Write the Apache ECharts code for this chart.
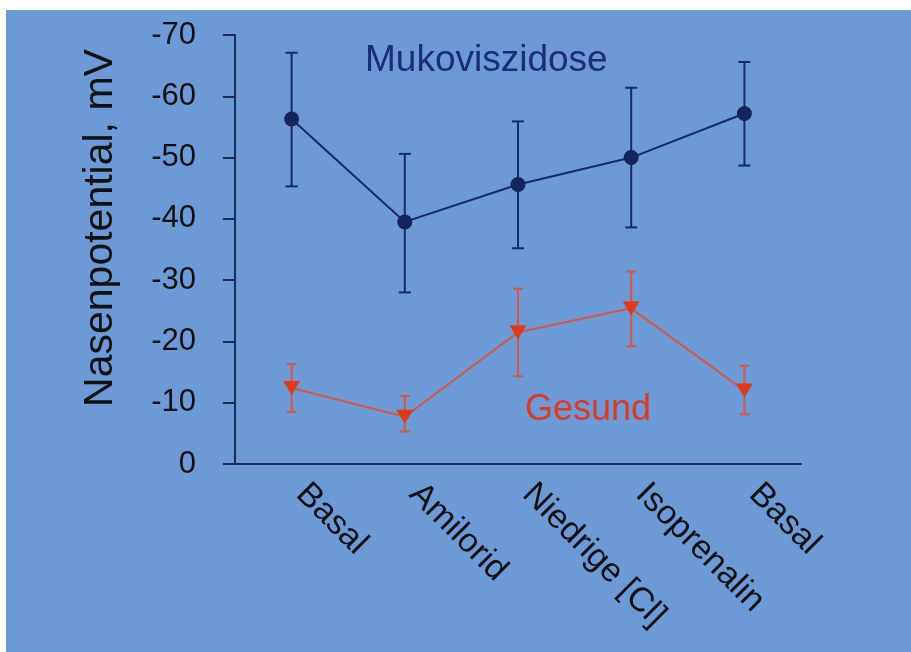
<!DOCTYPE html>
<html>
<head>
<meta charset="utf-8">
<script src="https://cdn.jsdelivr.net/npm/echarts@6/dist/echarts.min.js"></script>
<style>
html,body{margin:0;padding:0;background:#ffffff;}
#chart{width:911px;height:652px;}
</style>
</head>
<body>
<div id="chart"></div>
<script>
// ---- data ----
var categories = ['Basal', 'Amilorid', 'Niedrige [Cl]', 'Isoprenalin', 'Basal'];
var yTicks = [-70, -60, -50, -40, -30, -20, -10, 0];
var mukoMean = [-56.3, -39.5, -45.6, -50.0, -57.2];
var mukoUpper = [-67.1, -50.6, -55.9, -61.4, -65.6];
var mukoLower = [-45.3, -28.0, -35.2, -38.6, -48.7];
var gesundMean = [-12.4, -7.7, -21.5, -25.4, -12.0];
var gesundUpper = [-16.3, -11.1, -28.6, -31.4, -16.0];
var gesundLower = [-8.5, -5.3, -14.3, -19.2, -8.1];
var yTitle = 'Nasenpotential, mV';
var mukoName = 'Mukoviszidose';
var gesundName = 'Gesund';

var FONT = "'Liberation Sans', Arial, sans-serif";
var BG = '#6b9ad7';
var AXIS = '#1f2b55';
var MUKO = '#1a2870';
var MUKO_TEXT = '#1c2b7c';
var RED = '#e03a18';
var RED_LINE = '#d6563f';

function errData(upper, lower) {
  return upper.map(function (u, i) { return [i, u, lower[i]]; });
}
function errRender(color, capHalf) {
  return function (params, api) {
    var x = api.value(0);
    var p1 = api.coord([x, api.value(1)]);
    var p2 = api.coord([x, api.value(2)]);
    var st = { stroke: color, lineWidth: 2 };
    return {
      type: 'group',
      children: [
        { type: 'line', shape: { x1: p1[0], y1: p1[1], x2: p2[0], y2: p2[1] }, style: st },
        { type: 'line', shape: { x1: p1[0] - capHalf, y1: p1[1], x2: p1[0] + capHalf, y2: p1[1] }, style: st },
        { type: 'line', shape: { x1: p2[0] - capHalf, y1: p2[1], x2: p2[0] + capHalf, y2: p2[1] }, style: st }
      ]
    };
  };
}

var chart = echarts.init(document.getElementById('chart'), null, { renderer: 'canvas' });
chart.setOption({
  animation: false,
  backgroundColor: '#ffffff',
  textStyle: { fontFamily: FONT },
  grid: { left: 235, right: 110, top: 35, bottom: 188, containLabel: false },
  graphic: [
    { type: 'rect', z: -10, silent: true, shape: { x: 6, y: 10, width: 905, height: 642 }, style: { fill: BG } },
    { type: 'text', z: 10, x: 101, y: 228, rotation: Math.PI / 2,
      style: { text: yTitle, font: '41px ' + FONT, fill: '#111111', align: 'center', verticalAlign: 'middle' } },
    { type: 'text', z: 10, x: 365, y: 61,
      style: { text: mukoName, font: '37px ' + FONT, fill: MUKO_TEXT, align: 'left', verticalAlign: 'middle' } },
    { type: 'text', z: 10, x: 525, y: 410,
      style: { text: gesundName, font: '36px ' + FONT, fill: '#dc3a22', align: 'left', verticalAlign: 'middle' } }
  ],
  xAxis: {
    type: 'category',
    data: categories,
    boundaryGap: true,
    axisLine: { lineStyle: { color: AXIS, width: 2 } },
    axisTick: { alignWithLabel: true, length: 10, lineStyle: { color: AXIS, width: 2 } },
    axisLabel: { rotate: -45, margin: 15, padding: [0, 0, 0, 14], fontSize: 34, color: '#111111', fontFamily: FONT, interval: 0 },
    splitLine: { show: false }
  },
  yAxis: {
    type: 'value',
    min: yTicks[0],
    max: yTicks[yTicks.length - 1],
    interval: 10,
    inverse: true,
    axisLine: { show: true, lineStyle: { color: AXIS, width: 2 } },
    axisTick: { show: true, length: 12, lineStyle: { color: AXIS, width: 2 } },
    axisLabel: { margin: 39, fontSize: 31, color: '#111111', fontFamily: FONT },
    splitLine: { show: false }
  },
  series: [
    {
      type: 'custom', name: 'mukoErr', data: errData(mukoUpper, mukoLower),
      renderItem: errRender(MUKO, 6), z: 3
    },
    {
      type: 'custom', name: 'gesundErr', data: errData(gesundUpper, gesundLower),
      renderItem: errRender(RED_LINE, 5), z: 3
    },
    {
      type: 'line', name: mukoName, data: mukoMean,
      symbol: 'circle', symbolSize: 15,
      lineStyle: { color: MUKO, width: 2 },
      itemStyle: { color: '#15245c' }, z: 4
    },
    {
      type: 'line', name: gesundName, data: gesundMean,
      symbol: 'triangle', symbolRotate: 180, symbolSize: [17, 14],
      lineStyle: { color: RED_LINE, width: 2 },
      itemStyle: { color: RED }, z: 4
    }
  ]
});
</script>
</body>
</html>
